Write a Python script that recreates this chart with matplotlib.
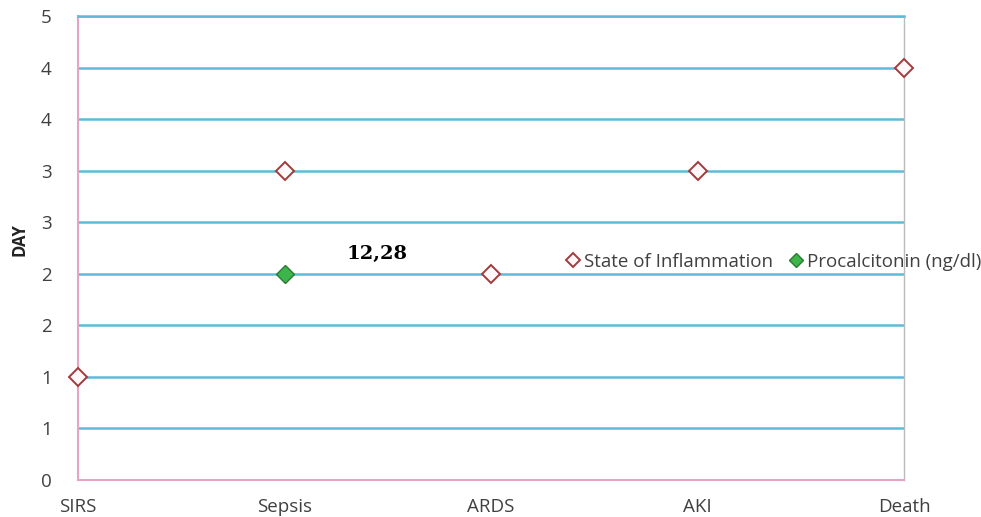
import matplotlib
matplotlib.use("Agg")
import matplotlib.pyplot as plt

stages = ["SIRS", "Sepsis", "ARDS", "AKI", "Death"]
inflammation = [1, 3, 2, 3, 4]
pct_stage = ["Sepsis"]
pct_day = [2]
pct_label = "12,28"

y_ticks = [0, 0.5, 1, 1.5, 2, 2.5, 3, 3.5, 4, 4.5]
y_tick_labels = ["0", "1", "1", "2", "2", "3", "3", "4", "4", "5"]

plt.rcParams['font.family'] = ['Open Sans', 'DejaVu Sans']

fig = plt.figure(figsize=(9.81, 5.17), dpi=100)
ax = fig.add_axes([78 / 981, 1 - 480 / 517, (904 - 78) / 981, (480 - 16) / 517])

x_infl = [stages.index(s) for s in stages]
x_pct = [stages.index(s) for s in pct_stage]

ax.plot(x_infl, inflammation, linestyle='none', marker='D', markersize=9.5,
        markerfacecolor='#FFF8FA', markeredgecolor='#A33A3A', markeredgewidth=1.4,
        label='State of Inflammation', zorder=5, clip_on=False)
ax.plot(x_pct, pct_day, linestyle='none', marker='D', markersize=9.5,
        markerfacecolor='#3CB54A', markeredgecolor='#2A7A33', markeredgewidth=1.0,
        label='Procalcitonin (ng/dl)', zorder=5, clip_on=False)

ax.annotate(pct_label, (x_pct[0], pct_day[0]), xytext=(67, 14.5),
            textcoords='offset points', ha='center', va='center',
            fontsize=14, fontweight='bold', family='DejaVu Serif', color='black')

ax.set_xlim(0, len(stages) - 1)
ax.set_ylim(0, 4.5)
ax.set_xticks(range(len(stages)))
ax.set_xticklabels(stages)
ax.set_yticks(y_ticks)
ax.set_yticklabels(y_tick_labels)
ax.tick_params(axis='both', length=0, labelsize=13.5, colors='#404040')
ax.tick_params(axis='y', pad=19)
ax.tick_params(axis='x', pad=13)

ax.grid(axis='y', color='#5DBAD8', linewidth=1.8)
ax.set_axisbelow(True)
for side in ['left', 'bottom']:
    ax.spines[side].set_color('#E6A3C4')
    ax.spines[side].set_linewidth(1.5)
ax.spines['right'].set_color('#BBBBBB')
ax.spines['right'].set_linewidth(1.0)
ax.spines['top'].set_color('#5DBAD8')
ax.spines['top'].set_linewidth(1.8)

fig.text(20 / 981, 1 - 240 / 517, 'DAY', rotation=90, ha='center', va='center',
         fontsize=12, fontweight='bold', color='#222222')

ax.legend(loc='center left', bbox_to_anchor=(558 / 981, 1 - 262 / 517),
          bbox_transform=fig.transFigure, ncol=2, frameon=False,
          fontsize=13.5, handlelength=0.6, handletextpad=0.3, columnspacing=0.9,
          borderpad=0, markerscale=0.7, labelcolor='#404040')

fig.savefig('out.png', dpi=100)
